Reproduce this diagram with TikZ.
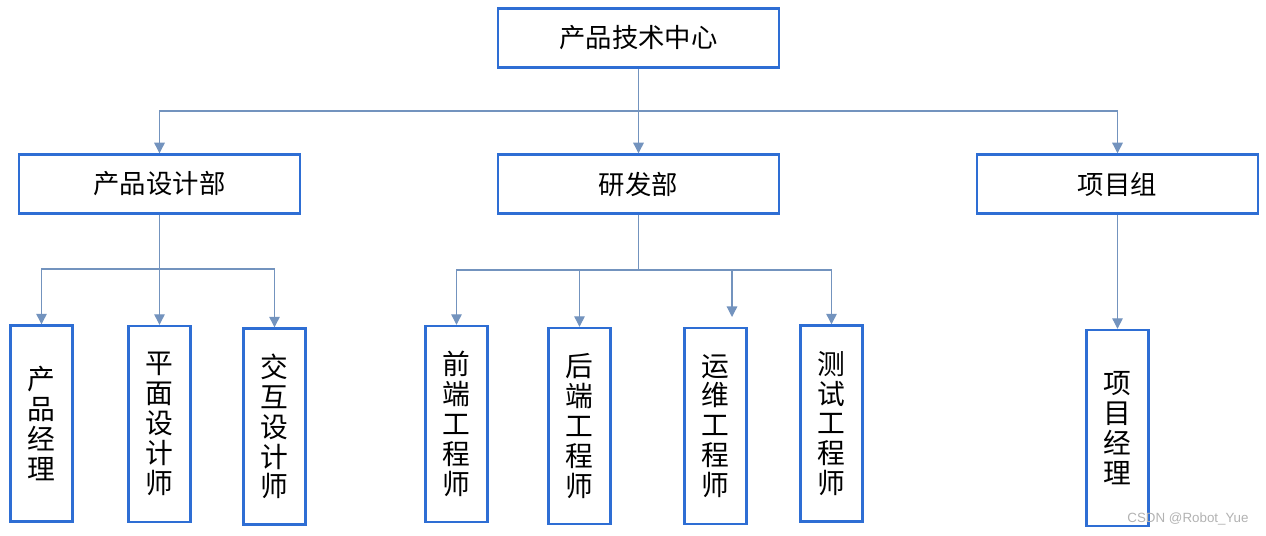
\documentclass[tikz,border=0pt]{standalone}
\usepackage{fontspec}
\setmainfont{Noto Sans CJK SC}
\newfontfamily\markfont{Liberation Sans}
\usetikzlibrary{arrows.meta}
\definecolor{boxblue}{HTML}{2E6ED4}
\definecolor{linkgray}{HTML}{7393BE}
\tikzset{
    dept/.style={draw=boxblue, line width=1.4pt, minimum width=5.62cm, minimum height=1.18cm,
        inner sep=0pt, font=\fontsize{15pt}{17pt}\selectfont},
    role/.style={draw=boxblue, line width=1.4pt, minimum width=1.24cm, minimum height=3.92cm,
        inner sep=0pt, align=center, font=\fontsize{15.8pt}{17pt}\selectfont},
    link/.style={draw=linkgray, line width=0.7pt},
    arr/.style={link, -{Triangle[length=6pt,width=6pt]}}
}
\begin{document}
\begin{tikzpicture}[x=0.02cm, y=-0.02cm]
    \useasboundingbox (0,0) rectangle (1266,535);
    % top level
    \node[dept] (center) at (638.5,38) {产品技术中心};
    \node[dept] (design) at (159.5,184) {产品设计部};
    \node[dept] (rd) at (638.5,184) {研发部};
    \node[dept] (proj) at (1117.5,184) {项目组};
    % roles
    \node[role] (pm) at (41.5,423.5) {产\\品\\经\\理};
    \node[role] (gd) at (159.5,424) {平\\面\\设\\计\\师};
    \node[role] (ixd) at (274.5,426.5) {交\\互\\设\\计\\师};
    \node[role] (fe) at (456.5,424) {前\\端\\工\\程\\师};
    \node[role] (be) at (579.5,426) {后\\端\\工\\程\\师};
    \node[role] (ops) at (715.5,426) {运\\维\\工\\程\\师};
    \node[role] (qa) at (831.5,423.5) {测\\试\\工\\程\\师};
    \node[role] (mgr) at (1117.5,428) {项\\目\\经\\理};
    % junctions
    \coordinate (topj) at (638.5,111);
    \coordinate (designj) at (159.5,269);
    \coordinate (rdj) at (638.5,270);
    \coordinate (opsend) at (732,317);
    % links
    \draw[link] (center.south) -- (topj);
    \draw[arr] (topj) -| (design.north);
    \draw[arr] (topj) -- (rd.north);
    \draw[arr] (topj) -| (proj.north);
    \draw[link] (design.south) -- (designj);
    \draw[arr] (designj) -| (pm.north);
    \draw[arr] (designj) -- (gd.north);
    \draw[arr] (designj) -| (ixd.north);
    \draw[link] (rd.south) -- (rdj);
    \draw[arr] (rdj) -| (fe.north);
    \draw[arr] (rdj) -| (be.north);
    \draw[arr] (rdj) -| (opsend);
    \draw[arr] (rdj) -| (qa.north);
    \draw[arr] (proj.south) -- (mgr.north);
    \node[text=black!30, font=\markfont\fontsize{7.6pt}{9pt}\selectfont] (mark) at (1188,519) {CSDN @Robot\_Yue};
\end{tikzpicture}
\end{document}
